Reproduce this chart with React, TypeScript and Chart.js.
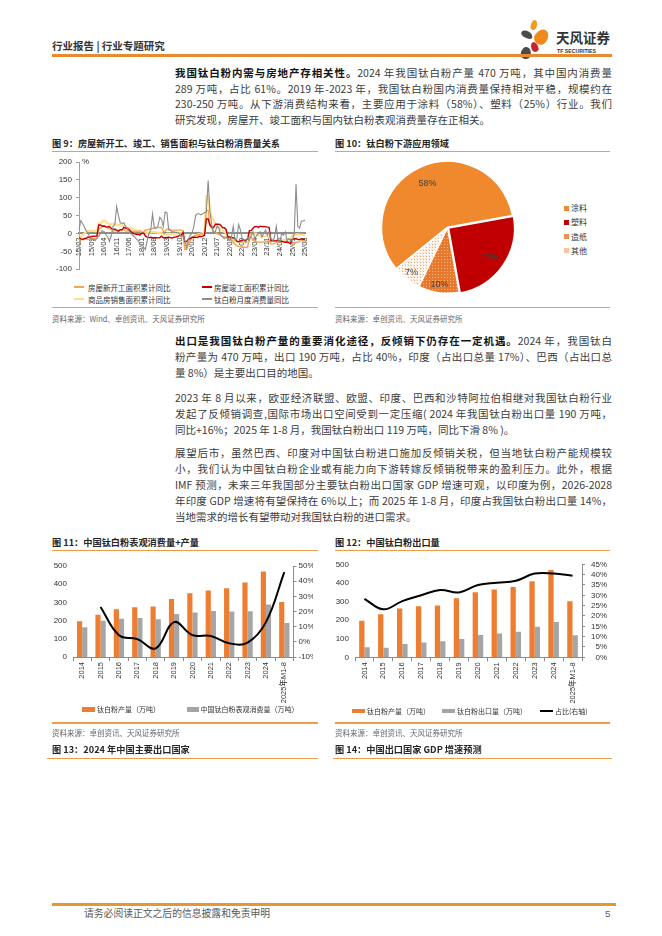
import React, { useEffect, useRef } from 'react';
import { Chart, registerables } from 'chart.js';

Chart.register(...registerables);

const CJK = '"Noto Sans CJK SC", "Noto Sans", sans-serif';
const LATIN = '"Liberation Sans", "Noto Sans CJK SC", sans-serif';

// ---------------- Figure 9 data (monthly, 2015/02 - 2025/08) ----------------
const MONTHS: string[] = (() => {
  const out: string[] = [];
  for (let y = 15; y <= 25; y++) {
    for (let m = 1; m <= 12; m++) {
      if ((y === 15 && m < 2) || (y === 25 && m > 8)) continue;
      out.push(`${y}/${String(m).padStart(2, '0')}`);
    }
  }
  return out;
})();

const NEW_START = [
  -17.7, -18.4, -17.1, -16.1, -15.8, -16.8, -15.8, -13.9, -13.9, -14.1, -14.0,
  13.7, 13.7, 19.2, 21.4, 18.0, 14.9, 12.2, 12.9, 6.2, 8.9, 7.6, 8.1,
  10.4, 10.4, 11.6, 7.0, 6.8, 10.6, 5.5, 6.3, 5.7, 5.6, 6.5, 7.0,
  2.9, 2.9, 9.7, 10.1, 11.8, 11.8, 14.4, 15.9, 16.4, 16.3, 16.8, 17.2,
  6.0, 6.0, 11.9, 13.1, 10.5, 10.1, 9.5, 8.9, 8.6, 10.0, 8.6, 8.5,
  -44.9, -44.9, -27.2, -18.4, -12.8, -7.6, -4.5, -3.6, -1.9, -1.0, -2.0, -1.2,
  64.3, 64.3, 28.2, 12.8, 6.9, 3.8, -0.9, -3.2, -4.5, -7.7, -9.1, -11.4,
  -12.2, -12.2, -17.5, -26.3, -30.6, -34.4, -36.1, -37.2, -38.0, -37.8, -38.9, -39.4,
  -9.4, -9.4, -19.2, -21.2, -22.6, -24.3, -24.5, -24.4, -23.4, -23.2, -21.2, -20.4,
  -29.7, -29.7, -27.8, -24.6, -24.2, -23.7, -23.2, -22.5, -22.2, -22.6, -23.0, -23.0,
  -29.6, -29.6, -24.4, -23.8, -22.8, -20.0, -19.4, -19.5,
];

const COMPLETED = [
  -11.4, -15.4, -16.5, -14.1, -13.8, -10.1, -10.6, -8.5, -7.9, -8.1, -6.9,
  23.8, 23.8, 20.4, 20.7, 18.8, 18.0, 19.5, 14.5, 12.1, 11.9, 9.7, 6.1,
  10.2, 10.2, 17.0, 14.8, 13.9, 10.2, 5.0, 1.1, -1.0, -2.3, -3.4, -4.4,
  0.9, 0.9, -6.9, -10.5, -11.6, -10.6, -11.6, -11.6, -12.0, -12.3, -12.3, -7.8,
  -11.9, -11.9, -10.8, -10.3, -12.4, -12.7, -10.3, -10.0, -8.6, -5.5, -4.5, 2.6,
  -22.9, -22.9, -15.8, -14.5, -10.3, -10.5, -10.5, -11.6, -8.0, -9.2, -7.3, -4.9,
  40.4, 40.4, 22.9, 17.9, 16.4, 25.7, 25.7, 26.0, 23.4, 16.3, 16.0, 11.2,
  -9.7, -9.7, -11.5, -11.9, -15.3, -21.5, -23.3, -21.1, -19.9, -18.7, -19.0, -15.0,
  8.0, 8.0, 14.7, 18.8, 19.6, 17.0, 20.5, 19.2, 19.8, 19.0, 17.9, 17.0,
  -20.2, -20.2, -20.7, -20.4, -19.0, -21.8, -21.8, -23.6, -24.4, -23.9, -26.2, -27.7,
  -15.6, -15.6, -14.3, -16.9, -17.3, -14.8, -16.5, -17.0,
];

const SALES = [
  -16.3, -9.2, -4.8, -0.2, 3.9, 6.1, 7.2, 7.5, 7.2, 7.4, 6.5,
  28.2, 28.2, 33.1, 36.5, 33.2, 27.9, 26.4, 25.5, 26.9, 26.8, 24.3, 22.5,
  25.1, 25.1, 19.5, 15.7, 14.3, 16.1, 15.0, 12.7, 10.3, 8.2, 7.9, 7.7,
  4.1, 4.1, 3.6, 1.3, 2.9, 3.3, 4.2, 4.0, 2.9, 2.2, 1.4, 1.3,
  -3.6, -3.6, -0.9, -0.3, -1.6, -1.8, -1.3, -0.6, -0.1, 0.1, 0.2, -0.1,
  -39.9, -39.9, -26.3, -19.3, -12.3, -8.4, -5.8, -3.3, -1.8, 0.0, 1.3, 2.6,
  104.9, 104.9, 63.8, 48.1, 36.3, 27.7, 21.5, 15.9, 11.3, 7.2, 4.8, 1.9,
  -9.6, -9.6, -13.8, -20.9, -23.6, -22.2, -23.1, -23.0, -22.2, -22.3, -23.3, -24.3,
  -3.6, -3.6, -1.8, -0.4, -0.9, -5.3, -6.5, -7.1, -7.5, -7.8, -8.0, -8.5,
  -20.5, -20.5, -19.4, -20.2, -20.3, -19.0, -18.6, -18.0, -17.1, -15.8, -14.3, -12.9,
  -5.1, -5.1, -3.0, -2.8, -2.9, -3.5, -4.0, -4.7,
];

const TIO2_YOY = [
  10, 36, 28, 18, 8, 0, -10, -18, -15, -20, -12,
  -8, 2, 8, 5, -3, -10, -22, -5, 20, 25, 75, 50,
  30, 28, 30, 20, 15, 5, 0, -5, -10, -15, -20, -30,
  -30, -38, -45, -20, 0, 10, 55, 15, 15, 20, 45, 40,
  20, 60, 58, 10, 8, 5, 5, 3, 2, 0, -10, -5,
  -20, -40, -15, -5, 0, 20, 50, 55, 55, 52, 55, 58,
  60, 148, 60, 25, 0, 5, 20, 15, -5, -10, -15, -10,
  -15, -20, -10, 20, -20, -15, 25, 10, -15, -20, -25, -10,
  -20, -5, 5, -15, -5, 0, 5, -10, 0, 10, -5, 5,
  -15, -20, -10, 20, -20, -25, 0, -5, 5, -20, -15, -20,
  -20, 0, 138, 20, 15, 35, 35, 37,
];

const FIG9_SERIES = ['房屋新开工面积累计同比', '房屋竣工面积累计同比', '商品房销售面积累计同比', '钛白粉月度消费量同比'];
const FIG9_COLORS = ['#F5A654', '#C00000', '#FFE08A', '#8C8C8C'];

// ---------------- Figure 10 data ----------------
const PIE_LABELS = ['涂料', '塑料', '造纸', '其他'];
const PIE_VALUES = [58, 25, 10, 7];

// ---------------- Figures 11 & 12 data ----------------
const YEARS = ['2014', '2015', '2016', '2017', '2018', '2019', '2020', '2021', '2022', '2023', '2024', '2025年M1-8'];
const OUTPUT = [197, 232, 263, 274, 278, 318, 350, 365, 378, 409, 470, 302];
const CONSUMPTION = [163, 199, 210, 214, 207, 236, 245, 253, 250, 251, 289, 187];
const CONSUMPTION_YOY = [null, 23, 4.4, 1.8, -4.3, 13, 4.4, 3.9, -1, -0.5, 13, 46];
const EXPORTS = [54, 52, 71, 80, 86, 98, 120, 128, 137, 164, 190, 119];
const EXPORT_SHARE = [28.3, 23.2, 27.2, 30, 32.6, 31.4, 35, 36.1, 37, 40.5, 40.5, 39.5];

const FIG11_SERIES = ['钛白粉产量（万吨）', '中国钛白粉表观消费量（万吨）', '表观消费量同比'];
const FIG12_SERIES = ['钛白粉产量（万吨）', '钛白粉出口量（万吨）', '占比(右轴)'];

const BAR_ORANGE = '#ED7D31';
const BAR_GRAY = '#A5A5A5';
const AXIS = '#8C8C8C';
const RULE = '#EE9C48';

Chart.defaults.font.family = LATIN;
Chart.defaults.color = '#333333';

function makePattern(bg: string, dot: string, step: number, r: number, diag: boolean) {
  const c = document.createElement('canvas');
  c.width = step;
  c.height = step;
  const x = c.getContext('2d')!;
  x.fillStyle = bg;
  x.fillRect(0, 0, step, step);
  x.fillStyle = dot;
  x.beginPath();
  x.arc(step / 2, step / 2, r, 0, Math.PI * 2);
  if (diag) {
    x.moveTo(0, 0);
    x.arc(0, 0, r, 0, Math.PI * 2);
  }
  x.fill();
  return x.createPattern(c, 'repeat');
}

const pieLabelPlugin = {
  id: 'pieLabels',
  afterDatasetsDraw(chart: any, _args: any, opts: any) {
    const ctx = chart.ctx;
    const meta = chart.getDatasetMeta(0);
    ctx.save();
    ctx.font = `9px ${LATIN}`;
    ctx.fillStyle = '#3F3F3F';
    ctx.textAlign = 'center';
    ctx.textBaseline = 'middle';
    meta.data.forEach((arc: any, i: number) => {
      const p = arc.getProps(['x', 'y', 'startAngle', 'endAngle', 'outerRadius'], true);
      const mid = (p.startAngle + p.endAngle) / 2;
      const r = p.outerRadius * opts.factors[i];
      ctx.fillText(PIE_VALUES[i] + '%', p.x + Math.cos(mid) * r, p.y + Math.sin(mid) * r);
    });
    ctx.restore();
  },
};

function makeFig9(canvas: HTMLCanvasElement) {
  return new Chart(canvas, {
    type: 'line',
    data: {
      labels: MONTHS,
      datasets: [
        { label: FIG9_SERIES[0], data: NEW_START, borderColor: FIG9_COLORS[0], borderWidth: 1.4, order: 2 },
        { label: FIG9_SERIES[1], data: COMPLETED, borderColor: FIG9_COLORS[1], borderWidth: 1.4, order: 1 },
        { label: FIG9_SERIES[2], data: SALES, borderColor: FIG9_COLORS[2], borderWidth: 2.2, order: 3 },
        { label: FIG9_SERIES[3], data: TIO2_YOY, borderColor: FIG9_COLORS[3], borderWidth: 1.1, order: 0 },
      ],
    },
    options: {
      animation: false,
      responsive: true,
      maintainAspectRatio: false,
      events: [],
      elements: { point: { radius: 0 }, line: { tension: 0 } },
      layout: { padding: { top: 9, right: 13, bottom: 7, left: 0 } },
      plugins: { legend: { display: false }, tooltip: { enabled: false } },
      scales: {
        x: {
          position: { y: 0 },
          grid: { display: false, drawTicks: false },
          border: { color: '#8E8E8E', width: 2 },
          ticks: {
            autoSkip: false,
            maxRotation: 90,
            minRotation: 90,
            padding: 4,
            font: { size: 7.5 },
            color: '#333',
            callback: (_v: any, i: number) => (i % 7 === 0 ? MONTHS[i] : ''),
          },
        },
        y: {
          min: -100,
          max: 200,
          ticks: { stepSize: 50, padding: 4, font: { size: 8 }, color: '#333', autoSkip: false },
          grid: { drawOnChartArea: false, tickLength: 3, color: '#A0A0A0' },
          border: { color: '#A0A0A0' },
          afterFit: (s: any) => {
            s.width = 27;
          },
        },
      },
    } as any,
  });
}

function makeFig10(canvas: HTMLCanvasElement) {
  const paper = makePattern('#E8792C', '#F7C49A', 3, 0.55, false);
  const other = makePattern('#FFFFFF', '#F2A66A', 3, 0.75, true);
  return new Chart(canvas, {
    type: 'pie',
    data: {
      labels: PIE_LABELS,
      datasets: [
        {
          data: PIE_VALUES,
          backgroundColor: ['#F0882E', '#C00000', paper, other],
          borderColor: '#FFFFFF',
          borderWidth: 1.5,
          offset: [0, 5, 0, 0],
          radius: 66,
        } as any,
      ],
    },
    options: {
      animation: false,
      responsive: true,
      maintainAspectRatio: false,
      events: [],
      rotation: 231,
      layout: { padding: { bottom: 1.4 } },
      plugins: {
        legend: { display: false },
        tooltip: { enabled: false },
        pieLabels: { factors: [0.73, 0.8, 0.88, 0.88] },
      },
    } as any,
    plugins: [pieLabelPlugin as any],
  });
}

function barLineOptions(cfg: { yMax: number; r: [number, number, number]; padTop: number; xH: number; yW: number; y1W: number; y1Align: string; y1Pad: number; yPad: number }) {
  return {
    animation: false,
    responsive: true,
    maintainAspectRatio: false,
    events: [],
    datasets: { bar: { barPercentage: 1, categoryPercentage: 0.56 } },
    layout: { padding: { top: cfg.padTop, right: 0, bottom: 0, left: 0 } },
    plugins: { legend: { display: false }, tooltip: { enabled: false } },
    scales: {
      x: {
        grid: { drawOnChartArea: false, tickLength: 4, color: AXIS, offset: true },
        border: { color: AXIS },
        ticks: { autoSkip: false, maxRotation: 90, minRotation: 90, padding: 1, font: { size: 7.5 }, color: '#333' },
        afterFit: (s: any) => {
          s.height = cfg.xH;
        },
      },
      y: {
        position: 'left',
        min: 0,
        max: cfg.yMax,
        ticks: { stepSize: 100, padding: cfg.yPad, font: { size: 8 }, color: '#333', autoSkip: false },
        grid: { display: false, drawTicks: false },
        border: { display: false },
        afterFit: (s: any) => {
          s.width = cfg.yW;
        },
      },
      y1: {
        position: 'right',
        min: cfg.r[0],
        max: cfg.r[1],
        ticks: {
          stepSize: cfg.r[2],
          autoSkip: false,
          padding: cfg.y1Pad,
          crossAlign: cfg.y1Align,
          font: { size: 8 },
          color: '#333',
          callback: (v: any) => v + '%',
        },
        grid: { drawOnChartArea: false, tickLength: 3, color: AXIS },
        border: { color: AXIS },
        afterFit: (s: any) => {
          s.width = cfg.y1W;
        },
      },
    },
  } as any;
}

function makeFig11(canvas: HTMLCanvasElement) {
  return new Chart(canvas, {
    type: 'bar',
    data: {
      labels: YEARS,
      datasets: [
        { type: 'bar', label: FIG11_SERIES[0], data: OUTPUT, backgroundColor: BAR_ORANGE, yAxisID: 'y', order: 1 },
        { type: 'bar', label: FIG11_SERIES[1], data: CONSUMPTION, backgroundColor: BAR_GRAY, yAxisID: 'y', order: 1 },
        { type: 'line', label: FIG11_SERIES[2], data: CONSUMPTION_YOY, yAxisID: 'y1', borderColor: '#000', borderWidth: 2, pointRadius: 0, tension: 0.4, order: 0 },
      ] as any,
    },
    options: barLineOptions({ yMax: 500, r: [-10, 50, 10], padTop: 14, xH: 49, yW: 21, y1W: 19.5, y1Align: 'near', y1Pad: 2, yPad: 6 }),
  });
}

function makeFig12(canvas: HTMLCanvasElement) {
  return new Chart(canvas, {
    type: 'bar',
    data: {
      labels: YEARS,
      datasets: [
        { type: 'bar', label: FIG12_SERIES[0], data: OUTPUT, backgroundColor: BAR_ORANGE, yAxisID: 'y', order: 1 },
        { type: 'bar', label: FIG12_SERIES[1], data: EXPORTS, backgroundColor: BAR_GRAY, yAxisID: 'y', order: 1 },
        { type: 'line', label: FIG12_SERIES[2], data: EXPORT_SHARE, yAxisID: 'y1', borderColor: '#000', borderWidth: 2, pointRadius: 0, tension: 0.4, order: 0 },
      ] as any,
    },
    options: barLineOptions({ yMax: 500, r: [0, 45, 5], padTop: 12.3, xH: 48.7, yW: 20, y1W: 25, y1Align: 'far', y1Pad: 3, yPad: 6 }),
  });
}

function ChartBox({ left, top, width, height, make }: { left: number; top: number; width: number; height: number; make: (c: HTMLCanvasElement) => Chart }) {
  const ref = useRef<HTMLCanvasElement>(null);
  useEffect(() => {
    const chart = make(ref.current!);
    return () => chart.destroy();
  }, []);
  return (
    <div style={{ position: 'absolute', left, top, width, height }}>
      <canvas ref={ref} />
    </div>
  );
}

function Txt({ x, y, size, children, weight = 400, color = '#333', family = CJK, ls = 0 }: any) {
  const h = Math.round(size * 1.5);
  return (
    <div
      style={{
        position: 'absolute',
        left: x,
        top: y - h / 2,
        height: h,
        lineHeight: h + 'px',
        fontSize: size,
        fontWeight: weight,
        color,
        fontFamily: family,
        whiteSpace: 'nowrap',
        letterSpacing: ls,
      }}
    >
      {children}
    </div>
  );
}

function Rule({ x1, x2, y, w = 1.2, color = RULE }: any) {
  return <div style={{ position: 'absolute', left: x1, top: y - w / 2, width: x2 - x1, height: w, background: color }} />;
}

function PLine({ y, last = false, children }: any) {
  return (
    <div
      style={{
        position: 'absolute',
        left: 175,
        width: 437,
        top: y - 8,
        height: 16,
        lineHeight: '16px',
        fontSize: 10.5,
        fontFamily: CJK,
        color: '#3C3C3C',
        whiteSpace: 'nowrap',
        textAlign: last ? 'left' : 'justify',
        textAlignLast: last ? 'left' : 'justify',
      } as any}
    >
      {children}
    </div>
  );
}

const B = ({ children }: any) => <span style={{ fontWeight: 700, color: '#141414' }}>{children}</span>;

function LegendSwatch({ x, y, w, h, bg, label, tx, size = 7 }: any) {
  return (
    <>
      <div style={{ position: 'absolute', left: x, top: y - h / 2, width: w, height: h, background: bg }} />
      <Txt x={tx} y={y} size={size} color="#333">
        {label}
      </Txt>
    </>
  );
}

function Logo() {
  const petals = [
    { l: 530.5, t: 20, w: 5.5, h: 9.5, r: 15, c: '#F39A1E' },
    { l: 520.5, t: 31, w: 11.5, h: 7, r: 28, c: '#4B4B4B' },
    { l: 534.5, t: 28.5, w: 13, h: 16, r: 35, c: '#F0891C' },
    { l: 531, t: 42, w: 7, h: 9.5, r: -20, c: '#C3262D' },
    { l: 520.5, t: 46.5, w: 9.5, h: 11.5, r: 10, c: '#4B4B4B' },
  ];
  return (
    <>
      {petals.map((p, i) => (
        <div
          key={i}
          style={{
            position: 'absolute',
            left: p.l,
            top: p.t,
            width: p.w,
            height: p.h,
            background: p.c,
            borderRadius: '50% 50% 50% 50% / 60% 60% 40% 40%',
            transform: `rotate(${p.r}deg)`,
          }}
        />
      ))}
      <Txt x={556} y={37} size={13.5} weight={700} color="#333">
        天风证券
      </Txt>
      <Txt x={557} y={50.5} size={5.2} weight={700} color="#333" family={LATIN}>
        TF SECURITIES
      </Txt>
    </>
  );
}

export default function App() {
  return (
    <div style={{ position: 'absolute', left: 0, top: 0, width: 662, height: 936, background: '#FFFFFF', overflow: 'hidden', fontFamily: CJK }}>
      {/* Header */}
      <Txt x={52} y={46} size={10.5} weight={700} color="#333">
        行业报告 | 行业专题研究
      </Txt>
      <Logo />
      <Rule x1={52} x2={612} y={55.5} w={2.2} color="#E98A2E" />

      {/* Paragraph 1 */}
      <PLine y={73}>
        <B>我国钛白粉内需与房地产存相关性。</B>2024 年我国钛白粉产量 470 万吨，其中国内消费量
      </PLine>
      <PLine y={88.5}>289 万吨，占比 61%。2019 年-2023 年，我国钛白粉国内消费量保持相对平稳，规模约在</PLine>
      <PLine y={104}>230-250 万吨。从下游消费结构来看，主要应用于涂料（58%）、塑料（25%）行业。我们</PLine>
      <PLine y={119.5} last>
        研究发现，房屋开、竣工面积与国内钛白粉表观消费量存在正相关。
      </PLine>

      {/* Figure 9 */}
      <Txt x={52} y={142.5} size={9.2} weight={700} color="#262626">
        图 9：房屋新开工、竣工、销售面积与钛白粉消费量关系
      </Txt>
      <Rule x1={52} x2={318} y={151.5} />
      <ChartBox left={52} top={153} width={266} height={125} make={makeFig9} />
      <Txt x={82} y={161.5} size={8} color="#333" family={LATIN}>
        %
      </Txt>
      <LegendSwatch x={74} y={287} w={10} h={2} bg={FIG9_COLORS[0]} label={FIG9_SERIES[0]} tx={88} size={7.5} />
      <LegendSwatch x={202} y={287} w={10} h={2} bg={FIG9_COLORS[1]} label={FIG9_SERIES[1]} tx={214} size={7.5} />
      <LegendSwatch x={74} y={299} w={10} h={2.5} bg={FIG9_COLORS[2]} label={FIG9_SERIES[2]} tx={88} size={7.5} />
      <LegendSwatch x={202} y={299} w={10} h={2} bg={FIG9_COLORS[3]} label={FIG9_SERIES[3]} tx={214} size={7.5} />
      <Rule x1={52} x2={318} y={307.5} />
      <Txt x={52} y={318} size={7.5} color="#666">
        资料来源：Wind、卓创资讯、天风证券研究所
      </Txt>

      {/* Figure 10 */}
      <Txt x={335} y={142.5} size={9.2} weight={700} color="#262626">
        图 10：钛白粉下游应用领域
      </Txt>
      <Rule x1={335} x2={610} y={151.5} />
      <ChartBox left={335} top={153} width={225} height={150} make={makeFig10} />
      <LegendSwatch x={564} y={208.3} w={5} h={5} bg="#F0882E" label={PIE_LABELS[0]} tx={571} size={8} />
      <LegendSwatch x={564} y={222.3} w={5} h={5} bg="#C00000" label={PIE_LABELS[1]} tx={571} size={8} />
      <LegendSwatch
        x={564}
        y={236.7}
        w={5}
        h={5}
        bg="radial-gradient(circle, #F7C49A 0.5px, transparent 0.8px) 0 0 / 2px 2px, #E8792C"
        label={PIE_LABELS[2]}
        tx={571}
        size={8}
      />
      <LegendSwatch
        x={564}
        y={250.7}
        w={5}
        h={5}
        bg="radial-gradient(circle, #F2A66A 0.6px, transparent 0.9px) 0 0 / 2px 2px, #FFFFFF"
        label={PIE_LABELS[3]}
        tx={571}
        size={8}
      />
      <Rule x1={335} x2={610} y={307.5} />
      <Txt x={335} y={318} size={7.5} color="#666">
        资料来源：卓创资讯、天风证券研究所
      </Txt>

      {/* Paragraph 2 */}
      <PLine y={341}>
        <B>出口是我国钛白粉产量的重要消化途径，反倾销下仍存在一定机遇。</B>2024 年，我国钛白
      </PLine>
      <PLine y={357}>粉产量为 470 万吨，出口 190 万吨，占比 40%，印度（占出口总量 17%）、巴西（占出口总</PLine>
      <PLine y={373} last>
        量 8%）是主要出口目的地国。
      </PLine>

      {/* Paragraph 3 */}
      <PLine y={397.5}>2023 年 8 月以来，欧亚经济联盟、欧盟、印度、巴西和沙特阿拉伯相继对我国钛白粉行业</PLine>
      <PLine y={413.5}>发起了反倾销调查,国际市场出口空间受到一定压缩( 2024 年我国钛白粉出口量 190 万吨，</PLine>
      <PLine y={429.5} last>
        同比+16%；2025 年 1-8 月，我国钛白粉出口 119 万吨，同比下滑 8% )。
      </PLine>

      {/* Paragraph 4 */}
      <PLine y={453}>展望后市，虽然巴西、印度对中国钛白粉进口施加反倾销关税，但当地钛白粉产能规模较</PLine>
      <PLine y={469}>小，我们认为中国钛白粉企业或有能力向下游转嫁反倾销税带来的盈利压力。此外，根据</PLine>
      <PLine y={485}>IMF 预测，未来三年我国部分主要钛白粉出口国家 GDP 增速可观，以印度为例，2026-2028</PLine>
      <PLine y={501}>年印度 GDP 增速将有望保持在 6%以上；而 2025 年 1-8 月，印度占我国钛白粉出口量 14%，</PLine>
      <PLine y={517} last>
        当地需求的增长有望带动对我国钛白粉的进口需求。
      </PLine>

      {/* Figure 11 */}
      <Txt x={52} y={541.5} size={9.2} weight={700} color="#262626">
        图 11：中国钛白粉表观消费量+产量
      </Txt>
      <Rule x1={52} x2={318} y={550.5} />
      <ChartBox left={52} top={552} width={261} height={154} make={makeFig11} />
      <LegendSwatch x={81.7} y={709.5} w={13.3} h={4.5} bg={BAR_ORANGE} label={FIG11_SERIES[0]} tx={97} />
      <LegendSwatch x={186.7} y={709.5} w={12.3} h={4.5} bg={BAR_GRAY} label={FIG11_SERIES[1]} tx={200.5} />
      <Rule x1={52} x2={318} y={723} />
      <Txt x={52} y={732} size={7.5} color="#666">
        资料来源：卓创资讯、天风证券研究所
      </Txt>

      {/* Figure 12 */}
      <Txt x={335} y={541.5} size={9.2} weight={700} color="#262626">
        图 12：中国钛白粉出口量
      </Txt>
      <Rule x1={335} x2={610} y={550.5} />
      <ChartBox left={335} top={552} width={272} height={154} make={makeFig12} />
      <LegendSwatch x={351.7} y={711} w={13.3} h={4.5} bg={BAR_ORANGE} label={FIG12_SERIES[0]} tx={367} />
      <LegendSwatch x={441.7} y={711} w={13.3} h={4.5} bg={BAR_GRAY} label={FIG12_SERIES[1]} tx={457} />
      <LegendSwatch x={540} y={711} w={13.3} h={2} bg="#000000" label={FIG12_SERIES[2]} tx={555} />
      <Rule x1={335} x2={610} y={723} />
      <Txt x={335} y={732} size={7.5} color="#666">
        资料来源：卓创资讯、天风证券研究所
      </Txt>

      {/* Figures 13 & 14 headings */}
      <Txt x={52} y={749} size={9.2} weight={700} color="#262626">
        图 13：2024 年中国主要出口国家
      </Txt>
      <Rule x1={47} x2={318} y={758.5} />
      <Txt x={335} y={749} size={9.2} weight={700} color="#262626">
        图 14：中国出口国家 GDP 增速预测
      </Txt>
      <Rule x1={333} x2={612} y={758.5} />

      {/* Footer */}
      <Rule x1={52} x2={616} y={904.5} w={2.6} color="#E8962E" />
      <Txt x={84} y={913.5} size={9.8} color="#595959">
        请务必阅读正文之后的信息披露和免责申明
      </Txt>
      <Txt x={605} y={913.5} size={9.8} color="#595959" family={LATIN}>
        5
      </Txt>
    </div>
  );
}
